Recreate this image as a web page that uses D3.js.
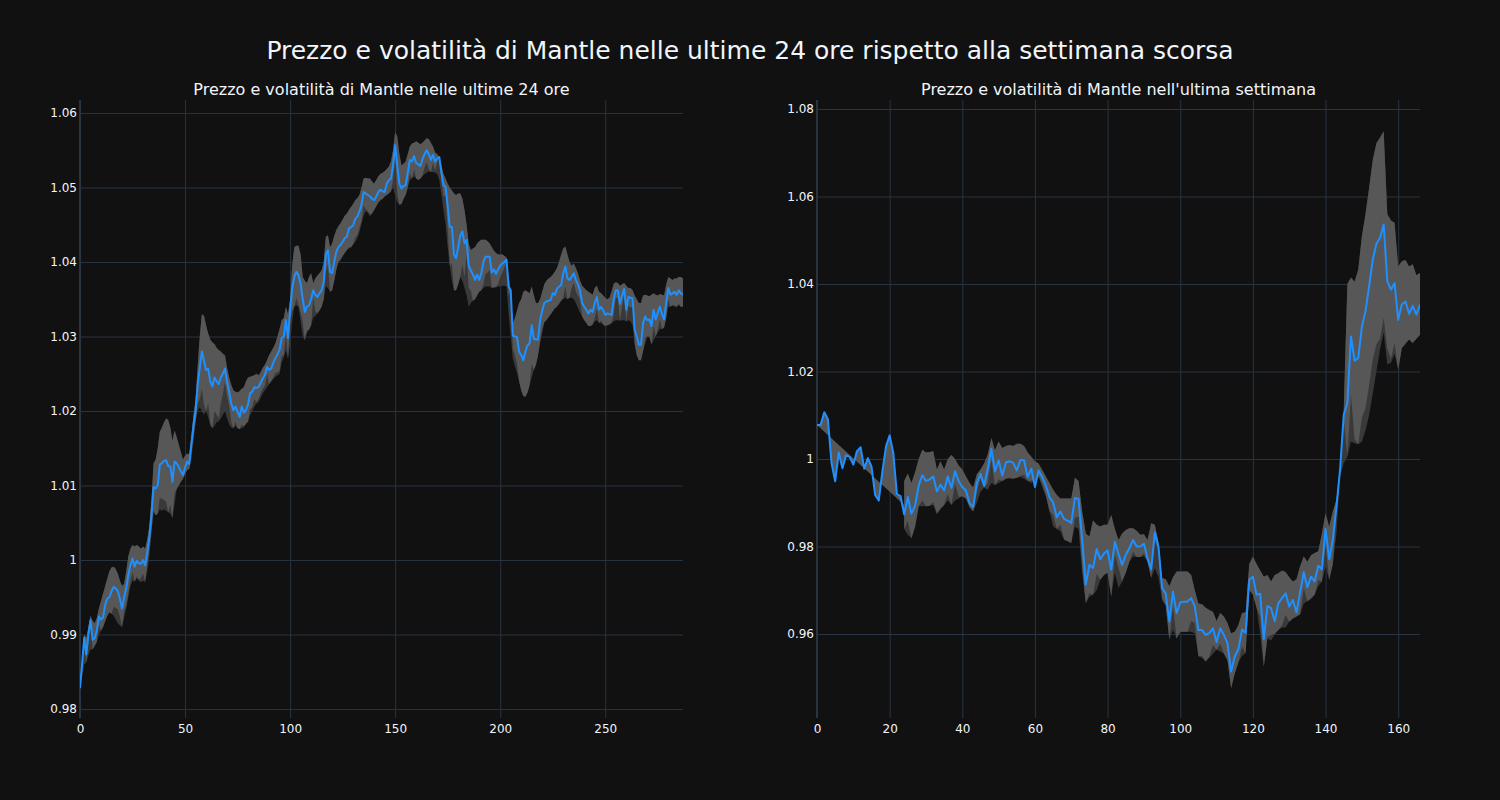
<!DOCTYPE html>
<html>
<head>
<meta charset="utf-8">
<script src="https://cdn.jsdelivr.net/npm/d3@7"></script>
<style>
  body { margin: 0; background: #111111; }
  svg { display: block; font-family: "DejaVu Sans", Verdana, sans-serif; }
</style>
</head>
<body>
<svg id="chart" width="1500" height="800"></svg>
<script>
/* Mantle: price (blue) with its volatility band (grey), 24h vs last week.
   Light grey = price +/- volatility, darker grey = the wider envelope underneath. */

const mainTitle = "Prezzo e volatilità di Mantle nelle ultime 24 ore rispetto alla settimana scorsa";
const panelTitles = [
  "Prezzo e volatilità di Mantle nelle ultime 24 ore",
  "Prezzo e volatilità di Mantle nell'ultima settimana"
];

// ---- last 24 hours (5-minute steps, index 0..287) ----
const dayPrice = [
  0.9828,0.9860,0.9896,0.9873,0.9900,0.9919,0.9893,0.9895,0.9905,0.9924,
  0.9920,0.9923,0.9940,0.9948,0.9950,0.9958,0.9964,0.9962,0.9958,0.9948,
  0.9935,0.9950,0.9962,0.9980,0.9993,1.0002,0.9991,0.9999,0.9996,0.9995,
  1.0000,0.9993,1.0010,1.0030,1.0060,1.0098,1.0096,1.0100,1.0128,1.0130,
  1.0133,1.0134,1.0126,1.0126,1.0105,1.0132,1.0130,1.0125,1.0119,1.0114,
  1.0124,1.0132,1.0129,1.0155,1.0180,1.0200,1.0235,1.0258,1.0280,1.0268,
  1.0255,1.0257,1.0240,1.0233,1.0245,1.0240,1.0236,1.0245,1.0250,1.0257,
  1.0239,1.0226,1.0210,1.0201,1.0206,1.0199,1.0192,1.0206,1.0198,1.0201,
  1.0209,1.0224,1.0226,1.0232,1.0231,1.0232,1.0238,1.0244,1.0248,1.0259,
  1.0255,1.0257,1.0265,1.0271,1.0276,1.0282,1.0298,1.0300,1.0322,1.0298,
  1.0335,1.0365,1.0380,1.0387,1.0382,1.0371,1.0350,1.0333,1.0340,1.0342,
  1.0350,1.0362,1.0356,1.0353,1.0358,1.0362,1.0373,1.0410,1.0416,1.0387,
  1.0385,1.0400,1.0414,1.0420,1.0423,1.0427,1.0432,1.0434,1.0445,1.0447,
  1.0449,1.0458,1.0461,1.0468,1.0477,1.0494,1.0492,1.0490,1.0488,1.0485,
  1.0483,1.0488,1.0494,1.0497,1.0495,1.0494,1.0505,1.0510,1.0512,1.0530,
  1.0557,1.0530,1.0505,1.0499,1.0502,1.0503,1.0520,1.0537,1.0535,1.0542,
  1.0533,1.0531,1.0529,1.0538,1.0545,1.0550,1.0545,1.0537,1.0544,1.0535,
  1.0539,1.0541,1.0520,1.0503,1.0501,1.0475,1.0447,1.0447,1.0410,1.0405,
  1.0420,1.0436,1.0441,1.0425,1.0430,1.0395,1.0389,1.0383,1.0376,1.0383,
  1.0376,1.0385,1.0400,1.0407,1.0407,1.0407,1.0386,1.0390,1.0384,1.0390,
  1.0395,1.0398,1.0400,1.0403,1.0367,1.0362,1.0301,1.0300,1.0299,1.0280,
  1.0275,1.0268,1.0280,1.0288,1.0291,1.0315,1.0297,1.0296,1.0296,1.0322,
  1.0335,1.0345,1.0347,1.0348,1.0349,1.0358,1.0356,1.0364,1.0367,1.0369,
  1.0385,1.0394,1.0378,1.0376,1.0380,1.0385,1.0376,1.0370,1.0362,1.0345,
  1.0340,1.0336,1.0331,1.0336,1.0333,1.0345,1.0353,1.0336,1.0340,1.0335,
  1.0329,1.0331,1.0330,1.0329,1.0350,1.0362,1.0362,1.0344,1.0355,1.0364,
  1.0336,1.0353,1.0352,1.0351,1.0309,1.0300,1.0289,1.0289,1.0318,1.0327,
  1.0322,1.0323,1.0314,1.0336,1.0323,1.0332,1.0340,1.0330,1.0323,1.0345,
  1.0365,1.0356,1.0358,1.0360,1.0356,1.0362,1.0358,1.0356
];
const dayUpper = [
  0.9835,0.9868,0.9900,0.9895,0.9910,0.9925,0.9918,0.9915,0.9922,0.9935,
  0.9945,0.9955,0.9965,0.9975,0.9985,0.9990,0.9991,0.9988,0.9982,0.9972,
  0.9965,0.9968,0.9985,1.0005,1.0015,1.0020,1.0018,1.0020,1.0018,1.0015,
  1.0018,1.0015,1.0028,1.0045,1.0080,1.0130,1.0135,1.0150,1.0172,1.0178,
  1.0185,1.0190,1.0188,1.0178,1.0160,1.0174,1.0165,1.0155,1.0145,1.0135,
  1.0140,1.0143,1.0142,1.0165,1.0195,1.0215,1.0260,1.0300,1.0330,1.0328,
  1.0315,1.0304,1.0296,1.0292,1.0290,1.0285,1.0282,1.0280,1.0277,1.0275,
  1.0258,1.0245,1.0235,1.0228,1.0226,1.0225,1.0227,1.0230,1.0232,1.0240,
  1.0245,1.0246,1.0247,1.0248,1.0250,1.0248,1.0252,1.0258,1.0262,1.0268,
  1.0275,1.0280,1.0285,1.0291,1.0300,1.0310,1.0322,1.0325,1.0340,1.0330,
  1.0350,1.0395,1.0420,1.0422,1.0422,1.0410,1.0380,1.0375,1.0372,1.0380,
  1.0385,1.0372,1.0378,1.0382,1.0385,1.0389,1.0400,1.0434,1.0436,1.0420,
  1.0425,1.0435,1.0443,1.0448,1.0452,1.0457,1.0462,1.0465,1.0470,1.0474,
  1.0478,1.0483,1.0486,1.0490,1.0500,1.0512,1.0513,1.0512,1.0512,1.0508,
  1.0505,1.0510,1.0515,1.0518,1.0520,1.0522,1.0525,1.0528,1.0535,1.0550,
  1.0575,1.0568,1.0545,1.0530,1.0532,1.0535,1.0545,1.0555,1.0559,1.0560,
  1.0562,1.0560,1.0558,1.0560,1.0563,1.0566,1.0565,1.0560,1.0555,1.0547,
  1.0545,1.0540,1.0530,1.0518,1.0512,1.0505,1.0500,1.0496,1.0492,1.0490,
  1.0492,1.0492,1.0485,1.0470,1.0450,1.0425,1.0416,1.0418,1.0420,1.0425,
  1.0428,1.0430,1.0430,1.0430,1.0428,1.0425,1.0420,1.0415,1.0412,1.0410,
  1.0410,1.0410,1.0408,1.0406,1.0380,1.0360,1.0318,1.0325,1.0335,1.0345,
  1.0350,1.0360,1.0362,1.0360,1.0358,1.0367,1.0355,1.0345,1.0345,1.0350,
  1.0360,1.0370,1.0375,1.0378,1.0380,1.0383,1.0387,1.0392,1.0400,1.0410,
  1.0418,1.0421,1.0410,1.0400,1.0395,1.0398,1.0392,1.0385,1.0375,1.0368,
  1.0365,1.0362,1.0360,1.0358,1.0356,1.0365,1.0368,1.0360,1.0358,1.0355,
  1.0352,1.0350,1.0352,1.0360,1.0371,1.0373,1.0372,1.0368,1.0370,1.0372,
  1.0368,1.0365,1.0365,1.0362,1.0355,1.0350,1.0345,1.0345,1.0355,1.0356,
  1.0355,1.0354,1.0356,1.0358,1.0356,1.0355,1.0357,1.0356,1.0355,1.0370,
  1.0380,1.0378,1.0376,1.0378,1.0378,1.0380,1.0380,1.0378
];
const dayLower = [
  0.9828,0.9845,0.9860,0.9862,0.9872,0.9880,0.9880,0.9885,0.9890,0.9900,
  0.9905,0.9910,0.9918,0.9925,0.9930,0.9928,0.9925,0.9920,0.9915,0.9912,
  0.9910,0.9922,0.9935,0.9950,0.9965,0.9972,0.9971,0.9975,0.9972,0.9970,
  0.9972,0.9970,0.9985,1.0005,1.0035,1.0065,1.0060,1.0062,1.0068,1.0066,
  1.0068,1.0066,1.0064,1.0062,1.0056,1.0075,1.0095,1.0100,1.0105,1.0109,
  1.0115,1.0120,1.0122,1.0135,1.0160,1.0185,1.0200,1.0205,1.0200,1.0195,
  1.0200,1.0192,1.0180,1.0177,1.0180,1.0185,1.0186,1.0190,1.0195,1.0200,
  1.0190,1.0182,1.0178,1.0177,1.0180,1.0177,1.0176,1.0177,1.0179,1.0183,
  1.0186,1.0195,1.0200,1.0206,1.0210,1.0212,1.0218,1.0224,1.0228,1.0232,
  1.0236,1.0240,1.0243,1.0246,1.0248,1.0250,1.0265,1.0272,1.0282,1.0270,
  1.0290,1.0320,1.0340,1.0342,1.0340,1.0320,1.0300,1.0295,1.0305,1.0309,
  1.0315,1.0325,1.0328,1.0331,1.0335,1.0340,1.0350,1.0367,1.0365,1.0360,
  1.0362,1.0375,1.0390,1.0400,1.0403,1.0408,1.0412,1.0416,1.0418,1.0420,
  1.0424,1.0427,1.0432,1.0440,1.0452,1.0462,1.0468,1.0466,1.0461,1.0465,
  1.0470,1.0475,1.0480,1.0483,1.0485,1.0488,1.0490,1.0492,1.0495,1.0500,
  1.0490,1.0480,1.0477,1.0478,1.0485,1.0490,1.0500,1.0510,1.0512,1.0515,
  1.0512,1.0510,1.0512,1.0515,1.0518,1.0520,1.0522,1.0521,1.0521,1.0520,
  1.0518,1.0510,1.0490,1.0470,1.0450,1.0420,1.0395,1.0375,1.0362,1.0362,
  1.0370,1.0380,1.0375,1.0365,1.0355,1.0340,1.0345,1.0348,1.0350,1.0355,
  1.0360,1.0362,1.0365,1.0367,1.0367,1.0367,1.0365,1.0366,1.0366,1.0367,
  1.0367,1.0368,1.0368,1.0367,1.0330,1.0300,1.0270,1.0260,1.0251,1.0240,
  1.0228,1.0220,1.0219,1.0225,1.0235,1.0245,1.0255,1.0262,1.0275,1.0291,
  1.0305,1.0318,1.0322,1.0326,1.0330,1.0334,1.0338,1.0340,1.0344,1.0348,
  1.0350,1.0352,1.0350,1.0352,1.0352,1.0350,1.0345,1.0338,1.0332,1.0327,
  1.0322,1.0318,1.0314,1.0314,1.0316,1.0320,1.0322,1.0318,1.0318,1.0316,
  1.0314,1.0315,1.0316,1.0318,1.0320,1.0322,1.0322,1.0321,1.0322,1.0322,
  1.0320,1.0322,1.0320,1.0315,1.0290,1.0275,1.0268,1.0268,1.0280,1.0290,
  1.0300,1.0300,1.0289,1.0295,1.0300,1.0305,1.0310,1.0310,1.0312,1.0325,
  1.0340,1.0340,1.0342,1.0340,1.0340,1.0342,1.0340,1.0340
];

// ---- last week (hourly, index 0..166; band undefined for the first 24 hours) ----
const weekPrice = [
  1.0078,1.0078,1.0107,1.0091,0.9991,0.9949,1.0015,0.9979,1.0008,1.0005,
  0.9987,1.0018,1.0027,0.9978,1.0002,0.9983,0.9918,0.9905,0.9972,1.0029,
  1.0054,1.0014,0.9920,0.9915,0.9873,0.9913,0.9875,0.9893,0.9939,0.9963,
  0.9950,0.9953,0.9960,0.9926,0.9941,0.9928,0.9960,0.9934,0.9972,0.9949,
  0.9936,0.9928,0.9899,0.9890,0.9945,0.9966,0.9939,0.9977,1.0023,0.9972,
  0.9997,0.9962,0.9992,0.9995,0.9991,0.9974,0.9998,0.9997,0.9959,0.9978,
  0.9936,0.9974,0.9959,0.9939,0.9913,0.9901,0.9867,0.9880,0.9863,0.9859,
  0.9854,0.9911,0.9909,0.9816,0.9713,0.9758,0.9751,0.9794,0.9771,0.9784,
  0.9791,0.9747,0.9811,0.9783,0.9758,0.9781,0.9796,0.9815,0.9800,0.9800,
  0.9806,0.9773,0.9748,0.9832,0.9800,0.9705,0.9693,0.9629,0.9697,0.9648,
  0.9672,0.9674,0.9674,0.9682,0.9663,0.9609,0.9609,0.9598,0.9602,0.9613,
  0.9581,0.9613,0.9598,0.9579,0.9514,0.9549,0.9565,0.9610,0.9603,0.9724,
  0.9731,0.9690,0.9692,0.9588,0.9664,0.9659,0.9629,0.9670,0.9682,0.9693,
  0.9663,0.9678,0.9649,0.9695,0.9741,0.9707,0.9731,0.9720,0.9756,0.9748,
  0.9840,0.9771,0.9815,0.9892,0.9976,1.0101,1.0128,1.0280,1.0225,1.0231,
  1.0302,1.0338,1.0395,1.0456,1.0492,1.0505,1.0536,1.0406,1.0387,1.0402,
  1.0318,1.0353,1.0360,1.0332,1.0350,1.0330,1.0353
];
const weekUpper = [
  null,null,null,null,null,null,null,null,null,null,
  null,null,null,null,null,null,null,null,null,null,
  null,null,null,null,
  0.9950,0.9967,0.9945,0.9970,1.0000,1.0021,1.0015,1.0016,1.0018,0.9976,
  0.9995,0.9976,1.0000,1.0009,1.0000,0.9985,0.9976,0.9960,0.9945,0.9935,
  0.9965,0.9976,0.9990,1.0010,1.0048,1.0020,1.0040,1.0025,1.0030,1.0032,
  1.0030,1.0035,1.0035,1.0030,1.0015,1.0005,0.9995,0.9990,0.9975,0.9960,
  0.9945,0.9930,0.9918,0.9910,0.9910,0.9910,0.9910,0.9957,0.9950,0.9880,
  0.9830,0.9823,0.9860,0.9850,0.9846,0.9850,0.9850,0.9872,0.9840,0.9815,
  0.9830,0.9838,0.9842,0.9842,0.9836,0.9827,0.9828,0.9815,0.9853,0.9850,
  0.9810,0.9728,0.9725,0.9709,0.9730,0.9743,0.9743,0.9743,0.9743,0.9735,
  0.9700,0.9670,0.9668,0.9660,0.9655,0.9651,0.9630,0.9648,0.9640,0.9625,
  0.9602,0.9605,0.9620,0.9648,0.9650,0.9760,0.9777,0.9760,0.9745,0.9731,
  0.9735,0.9720,0.9735,0.9739,0.9745,0.9742,0.9730,0.9720,0.9725,0.9755,
  0.9777,0.9765,0.9780,0.9785,0.9789,0.9830,0.9876,0.9845,0.9880,0.9907,
  0.9983,1.0110,1.0400,1.0415,1.0405,1.0433,1.0509,1.0560,1.0620,1.0684,
  1.0722,1.0735,1.0749,1.0560,1.0545,1.0540,1.0440,1.0452,1.0455,1.0440,
  1.0445,1.0420,1.0425
];
const weekLower = [
  null,null,null,null,null,null,null,null,null,null,
  null,null,null,null,null,null,null,null,null,null,
  null,null,null,null,
  0.9840,0.9827,0.9819,0.9845,0.9892,0.9892,0.9892,0.9893,0.9895,0.9873,
  0.9885,0.9895,0.9905,0.9895,0.9905,0.9910,0.9915,0.9910,0.9890,0.9880,
  0.9900,0.9925,0.9935,0.9930,0.9945,0.9940,0.9945,0.9950,0.9955,0.9955,
  0.9955,0.9957,0.9959,0.9955,0.9950,0.9945,0.9950,0.9960,0.9936,0.9915,
  0.9880,0.9846,0.9840,0.9835,0.9816,0.9812,0.9808,0.9845,0.9840,0.9740,
  0.9671,0.9685,0.9690,0.9700,0.9724,0.9735,0.9740,0.9686,0.9740,0.9705,
  0.9720,0.9740,0.9765,0.9777,0.9776,0.9776,0.9778,0.9765,0.9728,0.9750,
  0.9730,0.9678,0.9665,0.9587,0.9610,0.9590,0.9605,0.9605,0.9605,0.9605,
  0.9602,0.9549,0.9545,0.9537,0.9545,0.9555,0.9564,0.9560,0.9555,0.9540,
  0.9476,0.9510,0.9535,0.9550,0.9556,0.9701,0.9690,0.9660,0.9600,0.9526,
  0.9590,0.9585,0.9600,0.9609,0.9615,0.9615,0.9628,0.9635,0.9640,0.9645,
  0.9670,0.9675,0.9680,0.9690,0.9709,0.9720,0.9754,0.9724,0.9760,0.9830,
  0.9960,0.9990,1.0005,1.0040,1.0036,1.0034,1.0040,1.0065,1.0100,1.0150,
  1.0200,1.0250,1.0290,1.0216,1.0220,1.0240,1.0204,1.0254,1.0262,1.0273,
  1.0265,1.0275,1.0284
];

const dayXTicks = [0, 50, 100, 150, 200, 250];
const dayYTicks = [0.98, 0.99, 1, 1.01, 1.02, 1.03, 1.04, 1.05, 1.06];
const weekXTicks = [0, 20, 40, 60, 80, 100, 120, 140, 160];
const weekYTicks = [0.96, 0.98, 1, 1.02, 1.04, 1.06, 1.08];

const TEXT = "#f2f5fa", GRID = "#283442";
const LIGHT = "#575757", DARK = "#393939";
const svg = d3.select("#chart");
svg.append("rect").attr("width", 1500).attr("height", 800).attr("fill", "#111111");

svg.append("text")
  .attr("x", 750).attr("y", 59)
  .attr("text-anchor", "middle")
  .attr("fill", TEXT).attr("font-size", 25)
  .text(mainTitle);

const fmtY = (d) => String(+d.toFixed(2));

function drawPanel(cfg) {
  const { left, right, top, bottom } = cfg.box;
  const { price, upper, lower } = cfg;
  const x = d3.scaleLinear().domain([0, price.length - 1]).range([left, right]);
  const y = d3.scaleLinear().domain(cfg.yDomain).range([bottom, top]);
  const g = svg.append("g");

  g.append("text")
    .attr("x", (left + right) / 2).attr("y", 94.5)
    .attr("text-anchor", "middle")
    .attr("fill", TEXT).attr("font-size", 16)
    .text(cfg.title);

  // grid via axes with inverted ticks
  const gx = g.append("g").attr("transform", `translate(0,${bottom})`)
    .call(d3.axisBottom(x).tickValues(cfg.xTicks).tickSize(-(bottom - top))
      .tickPadding(6).tickFormat(d3.format("d")));
  const gy = g.append("g").attr("transform", `translate(${left},0)`)
    .call(d3.axisLeft(y).tickValues(cfg.yTicks).tickSize(-(right - left))
      .tickPadding(3).tickFormat(fmtY));
  [gx, gy].forEach((a) => {
    a.select(".domain").remove();
    a.selectAll("line").attr("stroke", GRID).attr("stroke-width", 1);
    a.selectAll("text").attr("fill", TEXT).attr("font-size", 12)
      .attr("font-family", '"DejaVu Sans", Verdana, sans-serif');
  });

  // x = 0 zero line
  g.append("line")
    .attr("x1", x(0)).attr("x2", x(0)).attr("y1", top).attr("y2", bottom)
    .attr("stroke", GRID).attr("stroke-width", 2);

  const clipId = "clip-" + cfg.key;
  svg.append("clipPath").attr("id", clipId).append("rect")
    .attr("x", left).attr("y", top).attr("width", right - left).attr("height", bottom - top);
  const plot = g.append("g").attr("clip-path", `url(#${clipId})`);

  const has = (i) => upper[i] != null;

  // wide envelope (dark)
  plot.append("path")
    .attr("d", d3.area().defined((d, i) => has(i)).x((d, i) => x(i))
      .y0((d, i) => y(lower[i])).y1((d, i) => y(upper[i]))(price))
    .attr("fill", DARK);

  // price +/- volatility (light), kept inside the envelope
  const lightLo = (i) => Math.max(lower[i], 2 * price[i] - upper[i]);
  plot.append("path")
    .attr("d", d3.area().defined((d, i) => has(i)).x((d, i) => x(i))
      .y0((d, i) => y(lightLo(i))).y1((d, i) => y(upper[i]))(price))
    .attr("fill", LIGHT);

  // before the band exists, the fill closes straight back to the first price
  const first = upper.findIndex((v) => v != null);
  if (first > 0) {
    const wedge = price.slice(0, first + 1).map((v, i) => [i, v]);
    wedge.push([first, (upper[first] + lower[first]) / 2]);
    plot.append("path")
      .attr("d", d3.line().x((d) => x(d[0])).y((d) => y(d[1]))(wedge) + "Z")
      .attr("fill", LIGHT);
  }

  plot.append("path")
    .attr("d", d3.line().x((d, i) => x(i)).y((d) => y(d))(price))
    .attr("fill", "none").attr("stroke", "#1e90ff").attr("stroke-width", 2)
    .attr("stroke-linejoin", "round");
}

drawPanel({
  key: "day", title: panelTitles[0],
  box: { left: 80, right: 683, top: 100, bottom: 718 },
  yDomain: [0.97879, 1.06175],
  price: dayPrice, upper: dayUpper, lower: dayLower,
  xTicks: dayXTicks, yTicks: dayYTicks
});
drawPanel({
  key: "week", title: panelTitles[1],
  box: { left: 817, right: 1420, top: 100, bottom: 718 },
  yDomain: [0.9408, 1.08206],
  price: weekPrice, upper: weekUpper, lower: weekLower,
  xTicks: weekXTicks, yTicks: weekYTicks
});
</script>
</body>
</html>
